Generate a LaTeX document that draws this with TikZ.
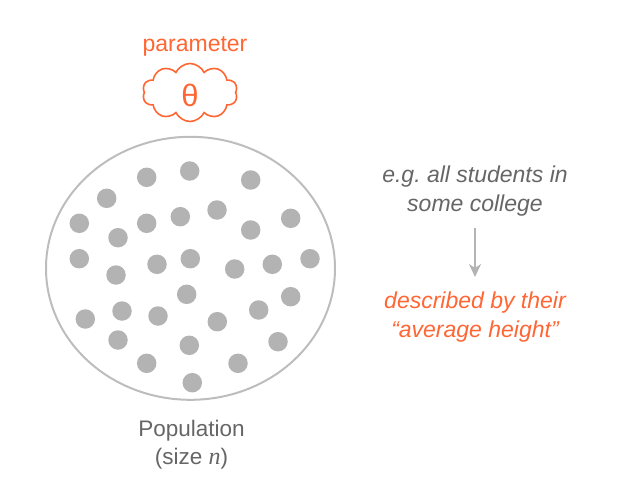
\documentclass[tikz,border=0pt]{standalone}
\usepackage{fontspec}
\setmainfont{Liberation Sans}
\newfontfamily\serifit{Liberation Serif}
\usetikzlibrary{shapes.symbols,shapes.geometric,arrows.meta}
\definecolor{orng}{HTML}{FF6633}
\definecolor{txtgray}{HTML}{666666}
\definecolor{dotgray}{HTML}{B3B3B3}
\definecolor{ringgray}{HTML}{BDBDBD}
\definecolor{arrgray}{HTML}{B3B3B3}
\frenchspacing
\tikzset{
  dotstyle/.style={circle,fill=dotgray,inner sep=0pt,minimum size=19.5pt},
  graytext/.style={text=txtgray,font=\fontsize{23}{29}\selectfont\itshape,align=center},
  orangetext/.style={text=orng,font=\fontsize{23}{29}\selectfont\itshape,align=center},
  poptext/.style={text=txtgray,font=\fontsize{22.5}{28}\selectfont,align=center},
}
\begin{document}
\begin{tikzpicture}[x=1pt,y=-1pt]
\useasboundingbox (0,0) rectangle (621,487);
% population ellipse
\node[draw=ringgray,line width=2pt,ellipse,minimum width=289pt,minimum height=263pt,inner sep=0pt] (pop) at (190.5,268.3) {};
% dots
\foreach \x/\y [count=\i] in {146.7/177.3,189.7/171,250.7/180,106.7/198.3,79.3/223.3,146.7/223.3,180.3/216.7,217/210,250.7/230,290.7/218.3,118/237.7,79.3/258.7,157/264.3,190.3/258.7,234.7/269,272.3/264.3,310/258.7,116/275,186.7/294.3,290.7/296.7,85.3/319,122/311,158/316,217.3/321.7,258.7/310,118/340,189.3/345.3,278/341.7,146.7/363.3,238/363.3,192.3/382.7}
  \node[dotstyle] (d\i) at (\x,\y) {};
% cloud
\node[cloud,draw=orng,line width=1.6pt,cloud puffs=10,cloud puff arc=130,minimum width=95pt,minimum height=58pt,inner sep=0pt,aspect=1.6] (cl) at (190,92.5) {};
\node[text=orng,font=\fontsize{31}{31}\selectfont] (theta) at (190,95) {θ};
\node[text=orng,font=\fontsize{23}{23}\selectfont] (param) at (195,46) {parameter};
% right texts
\node[graytext] (eg) at (475,191) {e.g.\ all students in\\some college};
\node[orangetext] (desc) at (475,317.5) {described by their\\“average height”};
\coordinate (a1) at (475,228);
\coordinate (a2) at (475,277);
\draw[arrgray,line width=2pt,-{Stealth[length=13pt,width=12pt,inset=4pt]}] (a1) -- (a2);
% population label
\node[poptext] (plabel) at (191.5,445) {Population\\(size {\serifit\itshape\fontsize{24}{28}\selectfont n})};
\end{tikzpicture}
\end{document}
